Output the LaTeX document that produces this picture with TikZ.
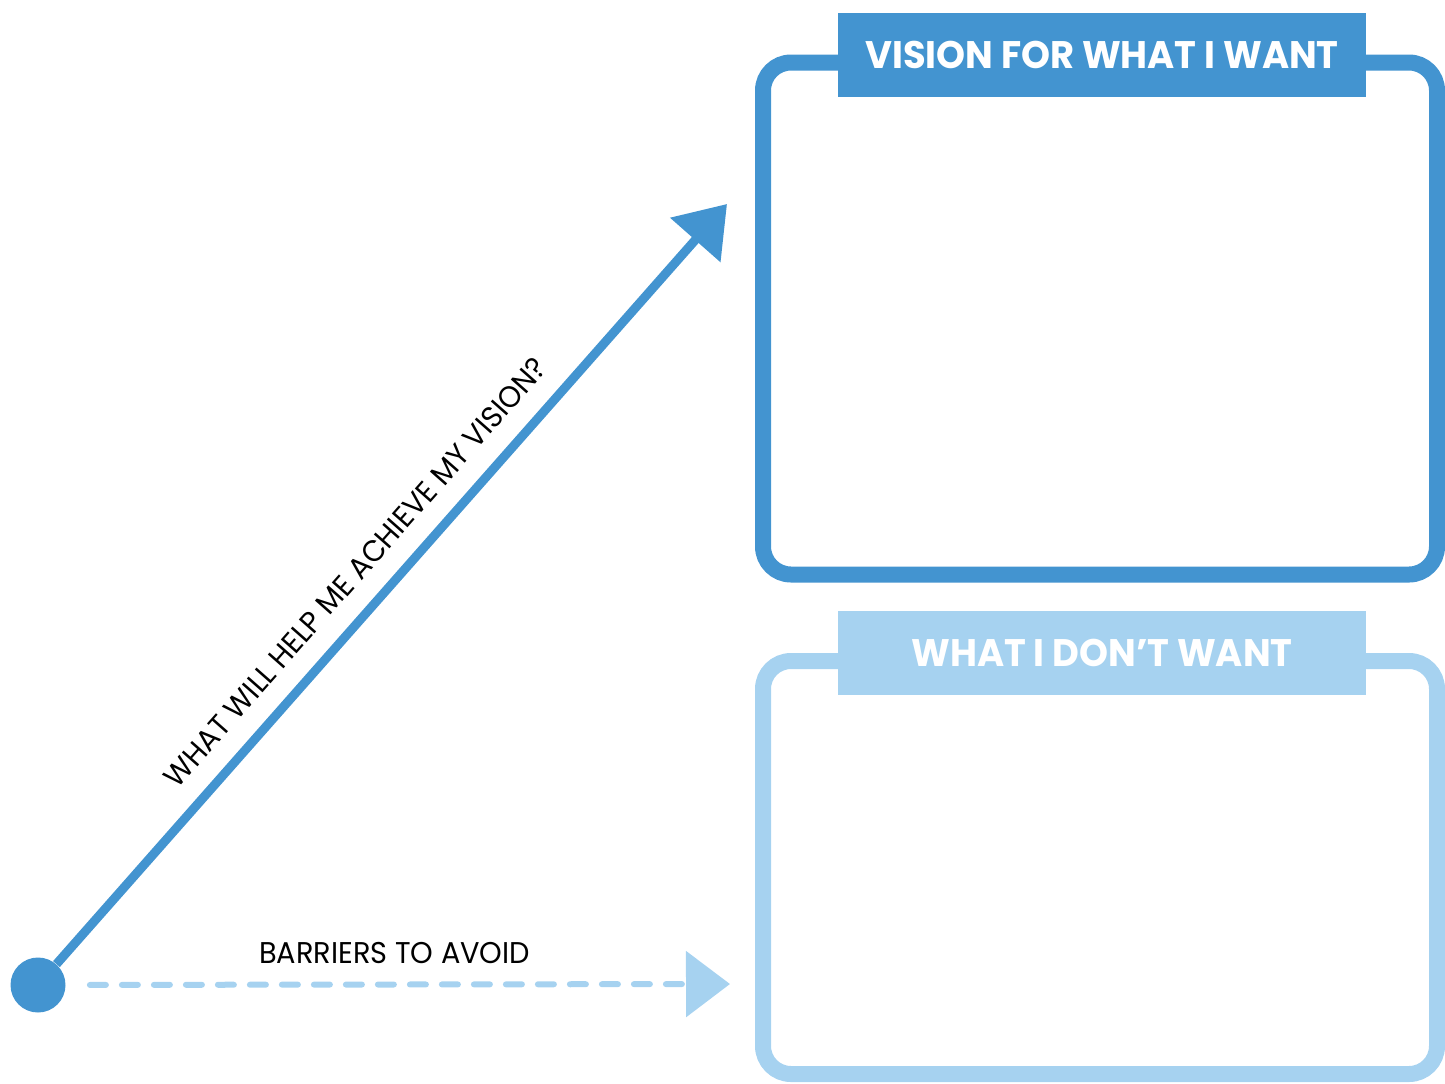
\documentclass[tikz,border=0pt]{standalone}
\usepackage{fontspec}
\setmainfont{Poppins}[FakeStretch=0.96]
\usepackage{tikz}
\usetikzlibrary{arrows.meta}

\definecolor{visionblue}{RGB}{67,148,208}
\definecolor{avoidblue}{RGB}{166,210,240}

\tikzset{
  framebox/.style={draw, line width=8pt, rounded corners=14pt, inner sep=0pt},
  titleband/.style={minimum width=264pt, minimum height=42pt, inner sep=0pt,
    text=white, font=\fontsize{19.2}{21}\selectfont\bfseries},
  pathtext/.style={text=black, inner sep=0pt, font=\fontsize{15}{17}\selectfont},
}

\begin{document}
\begin{tikzpicture}[x=0.5pt, y=-0.5pt]
\useasboundingbox (0,0) rectangle (1445,1083);
%nodes

\node (vision)[framebox, draw=visionblue, minimum width=337pt, minimum height=256pt] at (1100,318.5) {};
\node (visiontitle)[titleband, fill=visionblue] at (1102,55) {VISION FOR WHAT I WANT};

\node (dontwant)[framebox, draw=avoidblue, minimum width=337pt, minimum height=206.5pt] at (1100,867.5) {};
\node (donttitle)[titleband, fill=avoidblue] at (1102,653) {WHAT I DON’T WANT};

\node (start)[circle, fill=visionblue, minimum size=27.5pt, inner sep=0pt] at (38,985) {};
\coordinate (visiontip) at (727,204);
\coordinate (avoidtip) at (730,984);

%links
\draw[visionblue, line width=4.5pt, -{Triangle[length=24pt, width=32.5pt]}]
  (start) to node[pathtext, sloped, pos=0.485, above=10pt] {WHAT WILL HELP ME ACHIEVE MY VISION?} (visiontip);
\draw[avoidblue, line width=3pt, line cap=round, dash pattern=on 8pt off 8pt,
  shorten <=12pt, -{Triangle[length=22pt, width=32.5pt]}]
  (start) to node[pathtext, pos=0.495, above=9pt] {BARRIERS TO AVOID} (avoidtip);
\end{tikzpicture}
\end{document}
